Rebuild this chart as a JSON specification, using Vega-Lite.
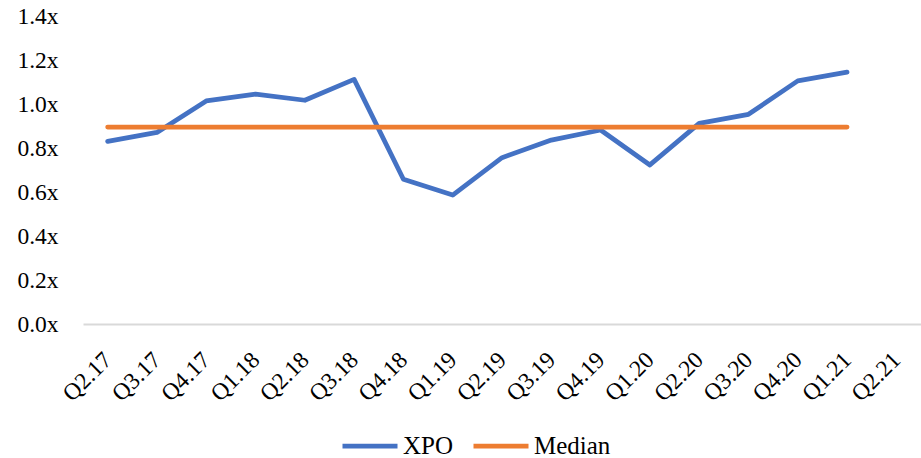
{
  "$schema": "https://vega.github.io/schema/vega-lite/v6.json",
  "autosize": "none",
  "width": 838,
  "height": 308,
  "padding": {"left": 83, "top": 16, "right": 0, "bottom": 134},
  "background": "white",
  "config": {
    "view": {"stroke": null},
    "font": "Liberation Serif",
    "axis": {"labelFont": "Liberation Serif", "labelColor": "#000000", "labelFontSize": 23.5},
    "legend": {"labelFont": "Liberation Serif", "labelColor": "#000000", "labelFontSize": 25}
  },
  "data": {
    "values": [
      {"q": "Q2.17", "series": "XPO", "v": 0.830},
      {"q": "Q3.17", "series": "XPO", "v": 0.871},
      {"q": "Q4.17", "series": "XPO", "v": 1.014},
      {"q": "Q1.18", "series": "XPO", "v": 1.045},
      {"q": "Q2.18", "series": "XPO", "v": 1.017},
      {"q": "Q3.18", "series": "XPO", "v": 1.112},
      {"q": "Q4.18", "series": "XPO", "v": 0.658},
      {"q": "Q1.19", "series": "XPO", "v": 0.586},
      {"q": "Q2.19", "series": "XPO", "v": 0.756},
      {"q": "Q3.19", "series": "XPO", "v": 0.836},
      {"q": "Q4.19", "series": "XPO", "v": 0.882},
      {"q": "Q1.20", "series": "XPO", "v": 0.723},
      {"q": "Q2.20", "series": "XPO", "v": 0.912},
      {"q": "Q3.20", "series": "XPO", "v": 0.953},
      {"q": "Q4.20", "series": "XPO", "v": 1.105},
      {"q": "Q1.21", "series": "XPO", "v": 1.145},
      {"q": "Q2.17", "series": "Median", "v": 0.895},
      {"q": "Q3.17", "series": "Median", "v": 0.895},
      {"q": "Q4.17", "series": "Median", "v": 0.895},
      {"q": "Q1.18", "series": "Median", "v": 0.895},
      {"q": "Q2.18", "series": "Median", "v": 0.895},
      {"q": "Q3.18", "series": "Median", "v": 0.895},
      {"q": "Q4.18", "series": "Median", "v": 0.895},
      {"q": "Q1.19", "series": "Median", "v": 0.895},
      {"q": "Q2.19", "series": "Median", "v": 0.895},
      {"q": "Q3.19", "series": "Median", "v": 0.895},
      {"q": "Q4.19", "series": "Median", "v": 0.895},
      {"q": "Q1.20", "series": "Median", "v": 0.895},
      {"q": "Q2.20", "series": "Median", "v": 0.895},
      {"q": "Q3.20", "series": "Median", "v": 0.895},
      {"q": "Q4.20", "series": "Median", "v": 0.895},
      {"q": "Q1.21", "series": "Median", "v": 0.895}
    ]
  },
  "mark": {"type": "line", "strokeWidth": 4.75, "strokeCap": "round", "strokeJoin": "round"},
  "encoding": {
    "x": {
      "field": "q",
      "type": "ordinal",
      "sort": ["Q2.17","Q3.17","Q4.17","Q1.18","Q2.18","Q3.18","Q4.18","Q1.19","Q2.19","Q3.19","Q4.19","Q1.20","Q2.20","Q3.20","Q4.20","Q1.21","Q2.21"],
      "scale": {"type": "point", "padding": 0.5, "domain": ["Q2.17","Q3.17","Q4.17","Q1.18","Q2.18","Q3.18","Q4.18","Q1.19","Q2.19","Q3.19","Q4.19","Q1.20","Q2.20","Q3.20","Q4.20","Q1.21","Q2.21"]},
      "axis": {
        "title": null,
        "ticks": false,
        "domain": true,
        "domainColor": "#d9d9d9",
        "domainWidth": 2,
        "labelAngle": -45,
        "labelAlign": "right",
        "labelBaseline": "middle",
        "labelPadding": 32
      }
    },
    "y": {
      "field": "v",
      "type": "quantitative",
      "scale": {"domain": [0, 1.4], "nice": false},
      "axis": {
        "title": null,
        "values": [0, 0.2, 0.4, 0.6, 0.8, 1.0, 1.2, 1.4],
        "labelExpr": "format(datum.value, '.1f') + 'x'",
        "ticks": false,
        "domain": false,
        "grid": false,
        "labelPadding": 25
      }
    },
    "color": {
      "field": "series",
      "type": "nominal",
      "scale": {"domain": ["XPO", "Median"], "range": ["#4472C4", "#ED7D31"]},
      "legend": {
        "title": null,
        "orient": "none",
        "direction": "horizontal",
        "legendX": 257,
        "legendY": 400,
        "symbolType": "stroke",
        "symbolSize": 3025,
        "symbolStrokeWidth": 4.75,
        "labelFont": "Liberation Serif",
        "labelFontSize": 25,
        "labelColor": "#000000",
        "labelOffset": 3,
        "columnPadding": 10
      }
    }
  }
}
